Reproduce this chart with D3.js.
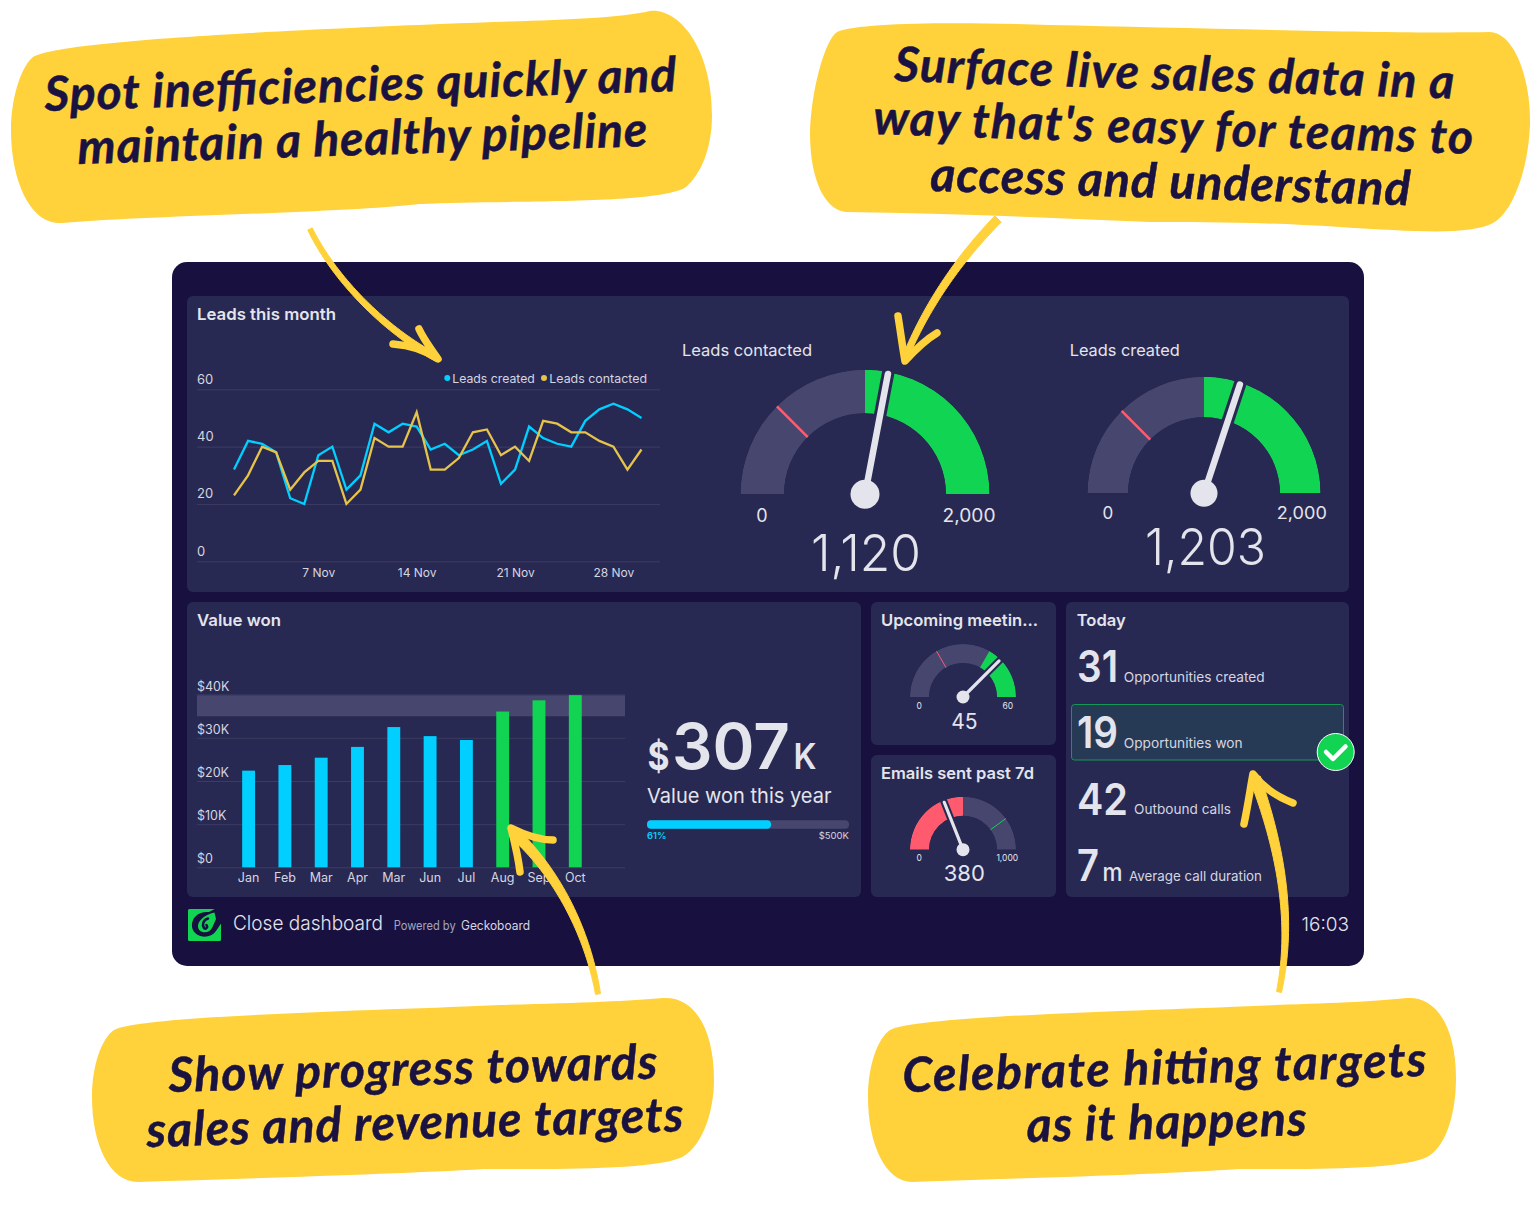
<!DOCTYPE html>
<html>
<head>
<meta charset="utf-8">
<title>Close dashboard</title>
<script src="https://cdn.jsdelivr.net/npm/d3@7"></script>
<style>
  html, body { margin: 0; padding: 0; background: #fff; }
  svg { display: block; }
  text { font-family: Inter, "Noto Sans", sans-serif; }
</style>
</head>
<body>
<div id="container"></div>
<script>
// 数据
const leadDays = [1,2,3,4,5,6,7,8,9,10,11,12,13,14,15,16,17,18,19,20,21,22,23,24,25,26,27,28,29,30];
const leadsCreated = [32,42,41,38,22,20,37,40,25,30,48,45,48,47,39,41,37,39,42,27,32,47,43,41,40,49,53,55,53,50];
const leadsContacted = [23,30,40,38,25,31,35,35,20,25,43,40,40,52,32,32,36,45,46,37,40,35,49,48,45,45,42,40,32,39];
const leadTicks = [0,20,40,60];
const leadDayTicks = [7,14,21,28];

const months = ["Jan","Feb","Mar","Apr","Mar","Jun","Jul","Aug","Sep","Oct"];
const valueWon = [22.4,23.7,25.4,27.9,32.5,30.4,29.5,36.1,38.7,39.9];
const valueTicks = [0,10,20,30,40];
const targetBand = [35,40];
const yearValue = 307;
const yearGoal = 500;

const todayValues = ["31","19","42","7"];
const todayUnits = ["","","","m"];
const todayLabels = ["Opportunities created","Opportunities won","Outbound calls","Average call duration"];

const width = 1536;
const height = 1228;
const INK = "#1a1240";
const BG = "#181140";
const PANEL = "#282952";
const GREY = "#46466e";
const GRID = "#3b3b63";
const GREEN = "#10d452";
const BLUE = "#00cfff";
const GOLD = "#e6c34a";
const RED = "#ff5a6e";
const LIGHT = "#e4e4ec";
const YELLOW = "#ffd23b";

const svg = d3.select("#container").append("svg")
  .attr("width", width).attr("height", height).attr("viewBox", `0 0 ${width} ${height}`);

function label(str, x, y, size, opts = {}) {
  const t = svg.append("text").attr("x", x).attr("y", y).attr("font-size", size)
    .attr("fill", opts.fill || LIGHT).attr("font-weight", opts.weight || 400)
    .attr("text-anchor", opts.anchor || "start").text(str);
  if (opts.len) t.attr("textLength", opts.len).attr("lengthAdjust", "spacingAndGlyphs");
  return t;
}

function panel(x, y, w, h) {
  svg.append("rect").attr("x", x).attr("y", y).attr("width", w).attr("height", h).attr("rx", 6).attr("fill", PANEL);
}

// 背景和面板
svg.append("rect").attr("x", 172).attr("y", 262).attr("width", 1192).attr("height", 704).attr("rx", 15).attr("fill", BG);
panel(187, 296, 1162, 296);
panel(187, 602, 674, 295);
panel(871, 602, 185, 143);
panel(871, 755, 185, 142);
panel(1066, 602, 283, 295);

// 折线图
label("Leads this month", 197, 320, 16.5, { weight: 600, len: 139 });
const lx = d3.scaleLinear().domain([1, 30]).range([234, 641.5]);
const ly = d3.scaleLinear().domain([0, 60]).range([561.3, 389.3]);

svg.append("g").attr("transform", "translate(197,0)")
  .call(d3.axisRight(ly).tickValues(leadTicks).tickSize(463))
  .call((g) => g.select(".domain").remove())
  .call((g) => g.selectAll("line").attr("stroke", GRID))
  .call((g) => g.selectAll("text").attr("x", 0).attr("dy", -6).attr("fill", "#d5d5e0").attr("font-size", 13));

svg.append("g").attr("transform", "translate(0,561.3)")
  .call(d3.axisBottom(lx).tickValues(leadDayTicks).tickFormat((d) => d + " Nov").tickSize(0))
  .call((g) => g.select(".domain").remove())
  .call((g) => g.selectAll("text").attr("y", 15.5).attr("dy", 0).attr("fill", "#d5d5e0").attr("font-size", 12));

const leadLine = d3.line().x((d, i) => lx(leadDays[i])).y((d) => ly(d));
[[leadsCreated, BLUE], [leadsContacted, GOLD]].forEach(([arr, c]) => {
  svg.append("path").attr("d", leadLine(arr)).attr("fill", "none").attr("stroke", c).attr("stroke-width", 2.3);
});

svg.append("circle").attr("cx", 447.3).attr("cy", 378).attr("r", 3).attr("fill", BLUE);
label("Leads created", 452.3, 383, 12, { fill: "#d5d5e0", len: 82.5 });
svg.append("circle").attr("cx", 544).attr("cy", 378).attr("r", 3).attr("fill", GOLD);
label("Leads contacted", 549.3, 383, 12, { fill: "#d5d5e0", len: 97.7 });

// 仪表盘
const arc = d3.arc();
function drawGauge(id, o) {
  const a = d3.scaleLinear().domain([0, o.max]).range([-Math.PI / 2, Math.PI / 2]);
  const g = svg.append("g").attr("transform", `translate(${o.cx},${o.cy})`);
  g.append("clipPath").attr("id", id).append("path").attr("d", arc({
    innerRadius: o.r, outerRadius: o.R, startAngle: -Math.PI / 2, endAngle: Math.PI / 2, cornerRadius: o.corner
  }));
  const ring = g.append("g").attr("clip-path", `url(#${id})`);
  ring.append("path").attr("fill", GREY).attr("d", arc({
    innerRadius: o.r, outerRadius: o.R, startAngle: -Math.PI / 2, endAngle: Math.PI / 2
  }));
  ring.append("path").attr("fill", o.bandColor).attr("d", arc({
    innerRadius: o.r, outerRadius: o.R, startAngle: a(o.band[0]), endAngle: a(o.band[1])
  }));
  // 刻度线
  const m = a(o.mark);
  g.append("line").attr("stroke", o.markColor).attr("stroke-width", o.markW)
    .attr("x1", Math.sin(m) * o.r).attr("y1", -Math.cos(m) * o.r)
    .attr("x2", Math.sin(m) * o.R).attr("y2", -Math.cos(m) * o.R);
  // 指针
  const n = a(o.value);
  g.append("line").attr("stroke", PANEL).attr("stroke-width", o.needle + o.gap * 2)
    .attr("x1", 0).attr("y1", 0).attr("x2", Math.sin(n) * (o.R + 3)).attr("y2", -Math.cos(n) * (o.R + 3));
  g.append("line").attr("stroke", LIGHT).attr("stroke-width", o.needle).attr("stroke-linecap", "round")
    .attr("x1", 0).attr("y1", 0).attr("x2", Math.sin(n) * (o.R - 2)).attr("y2", -Math.cos(n) * (o.R - 2));
  g.append("circle").attr("r", o.hub).attr("fill", LIGHT);
}

label("Leads contacted", 682, 356, 16.5, { len: 130 });
drawGauge("g1", { cx: 865, cy: 494.3, R: 124.5, r: 81, corner: 3, max: 2000, value: 1120, band: [1000, 2000],
  bandColor: GREEN, mark: 500, markColor: RED, markW: 2.5, needle: 6.5, gap: 3, hub: 14.5 });
label("0", 762, 521.7, 18, { anchor: "middle" });
label("2,000", 969, 521.7, 18, { anchor: "middle", len: 53 });
label("1,120", 866, 570.7, 51, { anchor: "middle", weight: 350, len: 110 });

label("Leads created", 1069.7, 356, 16.5, { len: 110 });
drawGauge("g2", { cx: 1204, cy: 493.3, R: 116.5, r: 76, corner: 3, max: 2000, value: 1203, band: [1000, 2000],
  bandColor: GREEN, mark: 500, markColor: RED, markW: 2.5, needle: 6.5, gap: 3, hub: 13.5 });
label("0", 1107.8, 519.3, 17, { anchor: "middle" });
label("2,000", 1301.8, 519.3, 17, { anchor: "middle", len: 50 });
label("1,203", 1205.5, 565, 51, { anchor: "middle", weight: 350, len: 121 });

label("Upcoming meetin...", 881, 626, 16.5, { weight: 600, len: 157 });
drawGauge("g3", { cx: 963, cy: 697, R: 53, r: 34, corner: 2, max: 60, value: 45, band: [40, 60],
  bandColor: GREEN, mark: 20, markColor: RED, markW: 1, needle: 3.2, gap: 2, hub: 6.5 });
label("0", 919.3, 708.7, 8.5, { anchor: "middle" });
label("60", 1007.7, 708.7, 8.5, { anchor: "middle" });
label("45", 964.3, 728.7, 21, { anchor: "middle" });

label("Emails sent past 7d", 881, 778.7, 16.5, { weight: 600, len: 153 });
drawGauge("g4", { cx: 963, cy: 849.7, R: 53, r: 34, corner: 2, max: 1000, value: 380, band: [0, 500],
  bandColor: RED, mark: 800, markColor: GREEN, markW: 1, needle: 3.2, gap: 2, hub: 6.5 });
label("0", 919.3, 861, 8.5, { anchor: "middle" });
label("1,000", 1007.3, 861, 8.5, { anchor: "middle" });
label("380", 964.3, 881.3, 22, { anchor: "middle" });

// 柱状图
label("Value won", 197, 626, 16.5, { weight: 600, len: 84 });
const by = d3.scaleLinear().domain([0, 40]).range([867.3, 694.7]);
const bx = d3.scaleBand().domain(d3.range(months.length)).range([230.45, 593.45]).paddingInner(0.645).paddingOuter(0.3225);

svg.append("rect").attr("x", 197).attr("width", 428).attr("y", by(targetBand[1]))
  .attr("height", by(targetBand[0]) - by(targetBand[1])).attr("fill", GREY);

svg.append("g").attr("transform", "translate(197,0)")
  .call(d3.axisRight(by).tickValues(valueTicks).tickSize(428).tickFormat((d) => d ? `$${d}K` : "$0"))
  .call((g) => g.select(".domain").remove())
  .call((g) => g.selectAll("line").attr("stroke", GRID))
  .call((g) => g.selectAll("text").attr("x", 0).attr("dy", -4.5).attr("fill", "#d5d5e0").attr("font-size", 12.5));

svg.append("g").selectAll("rect").data(valueWon).enter().append("rect")
  .attr("x", (d, i) => bx(i)).attr("width", bx.bandwidth())
  .attr("y", (d) => by(d)).attr("height", (d) => by(0) - by(d))
  .attr("fill", (d) => (d >= targetBand[0] ? GREEN : BLUE));

svg.append("g").attr("transform", "translate(0,867.3)")
  .call(d3.axisBottom(bx).tickFormat((i) => months[i]).tickSize(0))
  .call((g) => g.select(".domain").remove())
  .call((g) => g.selectAll("text").attr("y", 15).attr("dy", 0).attr("fill", "#d5d5e0").attr("font-size", 12.5));

// 年度目标
label("$", 647.5, 770, 38, { weight: 700, len: 22 });
label(yearValue, 672, 768.7, 63, { weight: 600, len: 118 });
label("K", 793.5, 768.7, 36, { weight: 600, len: 23 });
label("Value won this year", 647, 802.7, 20.5, { len: 184.5 });
const px = d3.scaleLinear().domain([0, yearGoal]).range([647, 849]);
svg.append("rect").attr("x", px(0)).attr("y", 820.3).attr("width", px(yearGoal) - px(0)).attr("height", 8.4).attr("rx", 4).attr("fill", GREY);
svg.append("rect").attr("x", px(0)).attr("y", 820.3).attr("width", px(yearValue) - px(0)).attr("height", 8.4).attr("rx", 4).attr("fill", BLUE);
label(Math.floor(yearValue / yearGoal * 100) + "%", 647, 838.7, 9.5, { fill: BLUE, weight: 600 });
label("$" + yearGoal + "K", 849, 838.7, 9.5, { anchor: "end", fill: "#d5d5e0" });

// Today
label("Today", 1076.7, 626, 16.5, { weight: 600, len: 49 });
svg.append("rect").attr("x", 1071.5).attr("y", 704.5).attr("width", 272).attr("height", 55.5).attr("rx", 3)
  .attr("fill", "#273a55").attr("stroke", "#129a55").attr("stroke-width", 1);
const todayRows = [
  { y: 681.5, lx: 1123.7, ly: 682, len: 141, nlen: 41 },
  { y: 748, lx: 1123.7, ly: 748, len: 119, nlen: 41 },
  { y: 814.5, lx: 1134, ly: 814, len: 97, nlen: 51 },
  { y: 880.5, lx: 1129, ly: 880.5, len: 133, nlen: 22 }
];
todayRows.forEach((r, i) => {
  label(todayValues[i], 1077, r.y, 44, { weight: 600, len: r.nlen });
  if (todayUnits[i]) label(todayUnits[i], 1102.5, r.y, 25, { weight: 500, len: 20 });
  label(todayLabels[i], r.lx, r.ly, 13.5, { fill: "#d5d5e0", len: r.len });
});
svg.append("circle").attr("cx", 1335.7).attr("cy", 752).attr("r", 18.5).attr("fill", GREEN).attr("stroke", "#fff").attr("stroke-width", 1);
svg.append("path").attr("d", "M1326 752 L1333 759 L1345.5 746.5").attr("fill", "none").attr("stroke", "#fff")
  .attr("stroke-width", 4.5).attr("stroke-linecap", "round").attr("stroke-linejoin", "round");

// 底栏
svg.append("rect").attr("x", 188).attr("y", 909).attr("width", 33).attr("height", 32).attr("rx", 1.5).attr("fill", GREEN);
svg.append("path").attr("fill", BG)
  .attr("d", "M216.5 908 L222 908 L222 922 L216 931 C210 940 194 938 192 927 C191 918 198 911 209 912 Z");
svg.append("path").attr("fill", GREEN)
  .attr("d", "M214.5 912.5 C204 915 197.5 921 198 927 C199 934 210 934 212.5 927 L216 919 Z");
svg.append("path").attr("fill", "none").attr("stroke", BG).attr("stroke-width", 2.5).attr("stroke-linecap", "round")
  .attr("d", "M208 918.5 C203 920 202 925 204 928 C206 930 208 927 206.5 925");
label("Close dashboard", 233, 930, 20, { weight: 300, len: 150 });
label("Powered by", 393.7, 930, 12.5, { fill: "#a5a5bd", len: 62 });
label("Geckoboard", 461, 930, 12.5, { fill: "#d5d5e0", len: 69 });
label("16:03", 1349, 931, 19, { anchor: "end", weight: 300 });

// 箭头: 变宽的线条
function taper(d, w0, w1) {
  const tmp = svg.append("path").attr("d", d);
  const node = tmp.node();
  const len = node.getTotalLength();
  const left = [];
  const right = [];
  d3.range(41).forEach((i) => {
    const t = i / 40;
    const p = node.getPointAtLength(t * len);
    const q = node.getPointAtLength(Math.min(len, t * len + 1));
    const b = node.getPointAtLength(Math.max(0, t * len - 1));
    const dx = q.x - b.x;
    const dy = q.y - b.y;
    const l = Math.hypot(dx, dy) || 1;
    const w = (w0 + (w1 - w0) * t) / 2;
    left.push([p.x - dy / l * w, p.y + dx / l * w]);
    right.unshift([p.x + dy / l * w, p.y - dx / l * w]);
  });
  tmp.remove();
  return d3.line()(left.concat(right)) + "Z";
}

const arrows = [
  { stem: "M310 229 C335 280 385 330 437 358", w0: 5, w1: 7, head: "M419 329 C424 340 432 350 438 359 C425 350 408 345 393 344" },
  { stem: "M998 219 C955 263 925 310 905 358", w0: 9, w1: 6, head: "M898 316 C901 335 903 350 905 361 C915 350 925 340 937 333" },
  { stem: "M598 994 C590 945 565 880 513 832", w0: 5, w1: 11, head: "M520 872 C518 855 514 840 511 828 C525 835 540 840 553 840" },
  { stem: "M1279 992 C1292 930 1285 860 1255 778", w0: 5, w1: 11, head: "M1244 824 C1248 805 1250 790 1253 774 C1265 790 1280 798 1293 803" }
];
arrows.forEach((a) => {
  svg.append("path").attr("d", taper(a.stem, a.w0, a.w1)).attr("fill", YELLOW).attr("stroke", YELLOW).attr("stroke-width", 1);
  svg.append("path").attr("d", a.head).attr("fill", "none").attr("stroke", YELLOW).attr("stroke-width", 7.5)
    .attr("stroke-linecap", "round").attr("stroke-linejoin", "round");
});

// 黄色标注
const blobs = [
  "M33 57 C60 40 300 30 440 24 C540 20 610 20 650 11 C680 8 712 50 712 115 C712 150 700 175 686 187 C660 205 500 200 420 204 C340 213 160 215 62 223 C30 225 11 180 11 130 C11 100 20 68 33 57 Z",
  "M837 32 C860 22 960 22 1050 25 C1200 28 1400 34 1489 32 C1515 32 1531 80 1530 125 C1528 175 1510 215 1493 223 C1470 235 1420 232 1340 227 C1260 222 1200 222 1150 222 C1050 218 950 213 846 212 C825 210 810 180 810 133 C811 90 825 40 837 32 Z",
  "M114 1030 C140 1015 400 1010 500 1005 C580 1003 630 1001 663 998 C695 996 714 1030 714 1080 C714 1115 700 1150 680 1158 C650 1170 560 1169 484 1169 C400 1174 260 1178 138 1182 C110 1182 92 1145 92 1097 C92 1065 102 1038 114 1030 Z",
  "M890 1030 C916 1015 1176 1010 1276 1005 C1340 1003 1380 1001 1407 998 C1438 996 1456 1030 1456 1078 C1456 1115 1445 1150 1425 1158 C1395 1170 1314 1169 1238 1169 C1170 1174 1034 1178 912 1182 C886 1182 868 1145 868 1097 C868 1065 878 1038 890 1030 Z"
];
blobs.forEach((d) => svg.append("path").attr("d", d).attr("fill", YELLOW));

const calloutLines = [
  ["Spot inefficiencies quickly and", 45, 111, 632, -1.8],
  ["maintain a healthy pipeline", 78, 164, 570, -1.8],
  ["Surface live sales data in a", 894, 81, 560, 1.8],
  ["way that's easy for teams to", 873, 134, 600, 1.9],
  ["access and understand", 930, 191, 480, 1.7],
  ["Show progress towards", 169, 1092, 489, -1.6],
  ["sales and revenue targets", 147, 1147, 537, -1.7],
  ["Celebrate hitting targets", 903, 1092, 524, -1.75],
  ["as it happens", 1027, 1142, 280, -1.4]
];
calloutLines.forEach(([str, x, y, len, rot]) => {
  svg.append("text").attr("transform", `translate(${x},${y}) rotate(${rot})`)
    .style("font-family", "Lato").style("font-style", "italic").style("font-weight", 700)
    .attr("font-size", 48).attr("fill", INK).attr("stroke", INK).attr("stroke-width", 0.5)
    .attr("textLength", len).attr("lengthAdjust", "spacing").text(str);
});
</script>
</body>
</html>
